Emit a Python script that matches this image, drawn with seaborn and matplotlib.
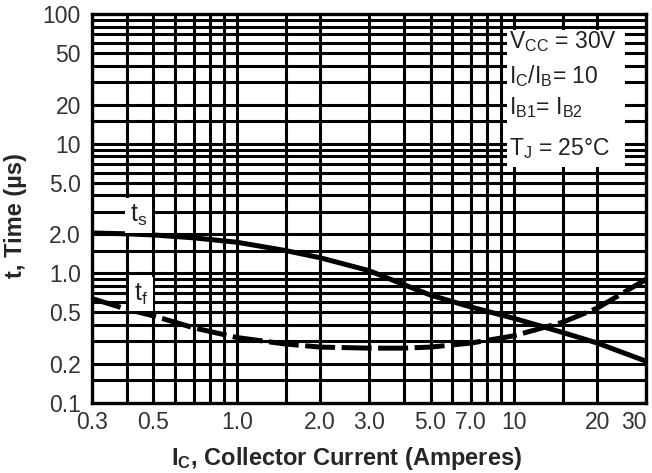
"Switching times vs collector current"
import numpy as np
import pandas as pd
import matplotlib
matplotlib.use('Agg')
import matplotlib.pyplot as plt
import seaborn as sns

# Curve readings (collector current in A, time in microseconds)
ic = [0.3, 0.4, 0.5, 0.7, 1.0, 1.5, 2.0, 3.0, 4.0, 5.0, 7.0, 10, 15, 20, 30]
ts = [2.05, 2.02, 1.98, 1.88, 1.74, 1.5, 1.32, 1.05, 0.82, 0.68, 0.55, 0.45, 0.35, 0.29, 0.21]
tf = [0.64, 0.53, 0.47, 0.38, 0.32, 0.285, 0.27, 0.265, 0.265, 0.27, 0.29, 0.33, 0.42, 0.54, 0.9]

x_ticks = [0.3, 0.5, 1.0, 2.0, 3.0, 5.0, 7.0, 10, 20, 30]
x_tick_labels = ['0.3', '0.5', '1.0', '2.0', '3.0', '5.0', '7.0', '10', '20', '30']
y_ticks = [0.1, 0.2, 0.5, 1.0, 2.0, 5.0, 10, 20, 50, 100]
y_tick_labels = ['0.1', '0.2', '0.5', '1.0', '2.0', '5.0', '10', '20', '50', '100']

conditions = [r'$\mathregular{V_{CC}}$ = 30V',
              r'$\mathregular{I_C/I_B}$= 10',
              r'$\mathregular{I_{B1}}$= $\mathregular{I_{B2}}$',
              r'$\mathregular{T_J}$ = 25°C']

sns.set_theme(style='white')
plt.rcParams['font.family'] = ['Liberation Sans', 'DejaVu Sans']
plt.rcParams['mathtext.fontset'] = 'custom'
plt.rcParams['mathtext.rm'] = 'Liberation Sans'
plt.rcParams['mathtext.default'] = 'regular'

df = pd.DataFrame({'ic': ic, 'ts': ts, 'tf': tf})

fig = plt.figure(figsize=(6.52, 4.73), dpi=100)
ax = fig.add_axes([0.141, 0.148, 0.850, 0.822])
ax.set_xscale('log')
ax.set_yscale('log')
ax.set_xlim(0.3, 30)
ax.set_ylim(0.1, 100)

# heavy log grid: lines at 1.5, 2 ... 9 of each decade
grid_mult = [1, 1.5, 2, 3, 4, 5, 6, 7, 8, 9]
for dec in [0.1, 1, 10]:
    for m in grid_mult:
        v = m * dec
        if 0.3 < v < 30:
            ax.axvline(v, color='black', lw=2.2, zorder=1)
for dec in [0.1, 1, 10, 100]:
    for m in grid_mult:
        v = m * dec
        if 0.1 < v < 100:
            ax.axhline(v, color='black', lw=2.2, zorder=1)

sns.lineplot(data=df, x='ic', y='ts', ax=ax, color='black', lw=3.6, zorder=3)
sns.lineplot(data=df, x='ic', y='tf', ax=ax, color='black', lw=3.6, zorder=3,
             dashes=False, linestyle=(0, (6, 1.3)))

# curve labels with white patches
ax.text(0.41, 2.5, r'$\mathregular{t_s}$', fontsize=18, color='#222222', zorder=4,
        bbox=dict(facecolor='white', edgecolor='none', pad=3.5))
ax.text(0.425, 0.62, r'$\mathregular{t_f}$', fontsize=18, color='#222222', zorder=4,
        bbox=dict(facecolor='white', edgecolor='none', pad=3.5))

# test conditions box
ax.add_patch(plt.Rectangle((0.749, 0.607), 0.213, 0.352, transform=ax.transAxes,
                           facecolor='white', edgecolor='none', zorder=2))
for txt, yy in zip(conditions, [0.913, 0.823, 0.742, 0.638]):
    ax.text(0.752, yy, txt, transform=ax.transAxes, fontsize=16.5, color='#222222',
            va='baseline', zorder=4)

ax.set_xticks(x_ticks)
ax.set_xticklabels(x_tick_labels)
ax.set_yticks(y_ticks)
ax.set_yticklabels(y_tick_labels)
ax.minorticks_off()
ax.tick_params(length=0, labelsize=16.5, labelcolor='#333333')
ax.tick_params(axis='x', pad=6)
ax.tick_params(axis='y', pad=8)
# keep the last x label inside the figure
ax.get_xticklabels()[-1].set_horizontalalignment('right')

for sp in ax.spines.values():
    sp.set_color('black')
    sp.set_linewidth(2.4)
    sp.set_zorder(5)

ax.set_xlabel(r'$\mathregular{I_C}$, Collector Current (Amperes)', fontsize=17, fontweight='bold')
ax.set_ylabel('t, Time (µs)', fontsize=17, fontweight='bold')
ax.xaxis.set_label_coords(0.459, -0.108)
ax.yaxis.set_label_coords(-0.117, 0.483)

fig.savefig('out.png', dpi=100)
